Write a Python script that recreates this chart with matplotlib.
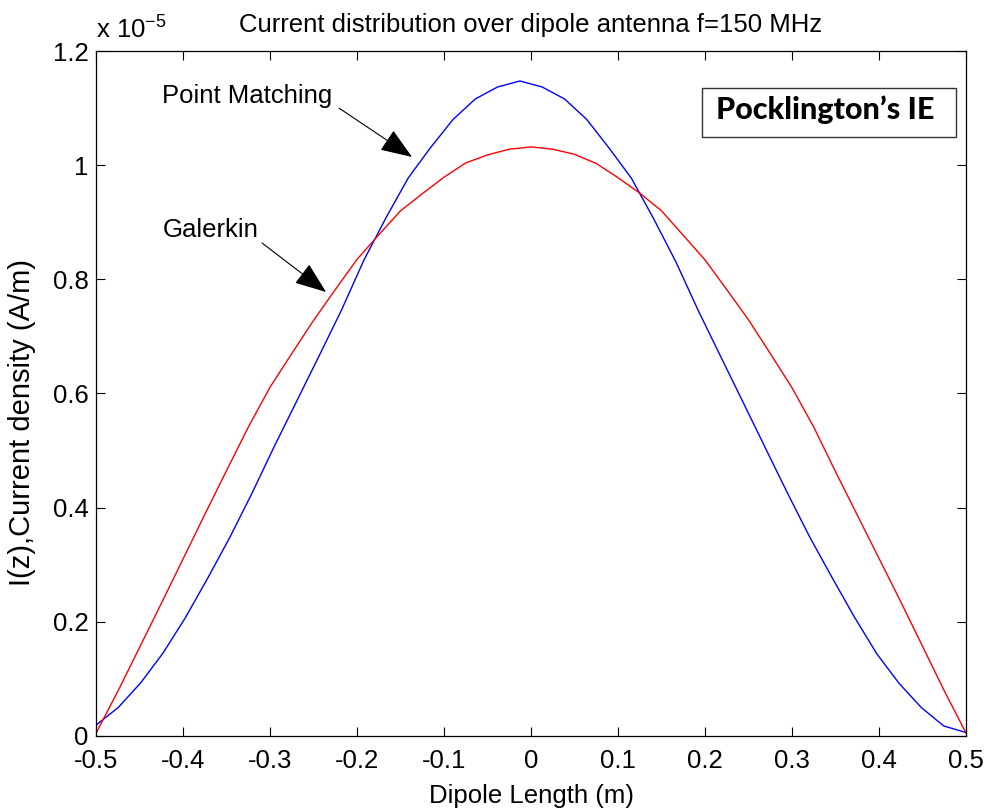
import matplotlib
matplotlib.use("Agg")
import matplotlib.pyplot as plt
from matplotlib.patches import Rectangle
from matplotlib.ticker import FuncFormatter

plt.rcParams['font.family'] = ['Liberation Sans', 'DejaVu Sans']
plt.rcParams['mathtext.fontset'] = 'custom'
plt.rcParams['mathtext.rm'] = 'Liberation Sans'
plt.rcParams['axes.unicode_minus'] = False

SCALE = 1e-5  # значення нижче в одиницях 1e-5 A/m
FS = 18.5

# Point Matching: 40 точок вздовж диполя
z_pm = [-0.5, -0.4744, -0.4487, -0.4231, -0.3974, -0.3718, -0.3462, -0.3205,
        -0.2949, -0.2692, -0.2436, -0.2179, -0.1923, -0.1667, -0.1410, -0.1154,
        -0.0897, -0.0641, -0.0385, -0.0128, 0.0128, 0.0385, 0.0641, 0.0897,
        0.1154, 0.1410, 0.1667, 0.1923, 0.2179, 0.2436, 0.2692, 0.2949,
        0.3205, 0.3462, 0.3718, 0.3974, 0.4231, 0.4487, 0.4744, 0.5]
i_pm = [0.019, 0.050, 0.093, 0.145, 0.207, 0.276, 0.348, 0.426,
        0.508, 0.587, 0.666, 0.746, 0.833, 0.908, 0.978, 1.031,
        1.080, 1.116, 1.137, 1.1475, 1.137, 1.116, 1.080, 1.030,
        0.977, 0.906, 0.830, 0.745, 0.665, 0.585, 0.505, 0.425,
        0.348, 0.277, 0.208, 0.144, 0.092, 0.0496, 0.0175, 0.006]

# Galerkin: 41 точка з кроком 0.025
z_gal = [-0.5, -0.475, -0.45, -0.425, -0.4, -0.375, -0.35, -0.325, -0.3, -0.275,
         -0.25, -0.225, -0.2, -0.175, -0.15, -0.125, -0.1, -0.075, -0.05, -0.025,
         0.0, 0.025, 0.05, 0.075, 0.1, 0.125, 0.15, 0.175, 0.2, 0.225,
         0.25, 0.275, 0.3, 0.325, 0.35, 0.375, 0.4, 0.425, 0.45, 0.475, 0.5]
i_gal = [0.005, 0.078, 0.155, 0.232, 0.310, 0.388, 0.465, 0.541, 0.611, 0.670,
         0.728, 0.782, 0.835, 0.878, 0.920, 0.950, 0.979, 1.004, 1.018, 1.028,
         1.032, 1.028, 1.019, 1.003, 0.978, 0.951, 0.920, 0.877, 0.834, 0.782,
         0.729, 0.670, 0.610, 0.541, 0.463, 0.387, 0.311, 0.235, 0.157, 0.079, 0.005]

x_ticks = [-0.5, -0.4, -0.3, -0.2, -0.1, 0, 0.1, 0.2, 0.3, 0.4, 0.5]
y_ticks = [0, 0.2, 0.4, 0.6, 0.8, 1.0, 1.2]

fig = plt.figure(figsize=(9.89, 8.10), dpi=100)
ax = fig.add_axes([0.0971, 0.0914, 0.8797, 0.8456])

ax.plot(z_pm, [v * SCALE for v in i_pm], color='#0000ff', lw=1.0)
ax.plot(z_gal, [v * SCALE for v in i_gal], color='#ff0000', lw=1.0)

ax.set_xlim(-0.5, 0.5)
ax.set_ylim(0, 1.2 * SCALE)
ax.set_xticks(x_ticks)
ax.set_yticks([t * SCALE for t in y_ticks])
ax.xaxis.set_major_formatter(FuncFormatter(lambda v, p: '%g' % round(v, 3)))
ax.yaxis.set_major_formatter(FuncFormatter(lambda v, p: '%g' % round(v / SCALE, 3)))
ax.tick_params(direction='in', top=True, right=True, length=6.5, width=0.8,
               labelsize=FS, color='black')
ax.tick_params(axis='x', pad=9.5)
ax.tick_params(axis='y', pad=5.5)
for s in ax.spines.values():
    s.set_linewidth(0.9)
    s.set_color('black')

ax.set_title('Current distribution over dipole antenna f=150 MHz', fontsize=FS, pad=13.5)
ax.set_xlabel('Dipole Length (m)', fontsize=FS, labelpad=7.5)
ax.set_ylabel('I(z),Current density (A/m)', fontsize=21)
ax.yaxis.set_label_coords(-0.069, 0.457)
ax.text(0, 1.019, r'x 10$^{-5}$', transform=ax.transAxes, fontsize=FS,
        ha='left', va='baseline')

# підписи зі стрілками
arrow = dict(arrowstyle='-|>,head_length=1.0,head_width=0.38', color='black',
             lw=0.8, mutation_scale=20, shrinkA=0, shrinkB=0)
ax.text(-0.4241, 1.109 * SCALE, 'Point Matching', fontsize=FS, ha='left', va='baseline')
ax.annotate('', xy=(-0.1368, 1.0144 * SCALE), xytext=(-0.2207, 1.100 * SCALE),
            arrowprops=arrow)
ax.text(-0.423, 0.874 * SCALE, 'Galerkin', fontsize=FS, ha='left', va='baseline')
ax.annotate('', xy=(-0.2356, 0.7778 * SCALE), xytext=(-0.3092, 0.8637 * SCALE),
            arrowprops=arrow)

# рамка з назвою рівняння
ax.add_patch(Rectangle((0.6966, 0.8745), 0.2919, 0.0715, transform=ax.transAxes,
                       fill=False, edgecolor='#333333', lw=1.0))
ax.text(0.7126, 0.9007, 'Pocklington\u2019s IE', transform=ax.transAxes,
        fontsize=22, fontweight='black', family='Lato', ha='left', va='baseline')

fig.savefig('out.png', dpi=100)
